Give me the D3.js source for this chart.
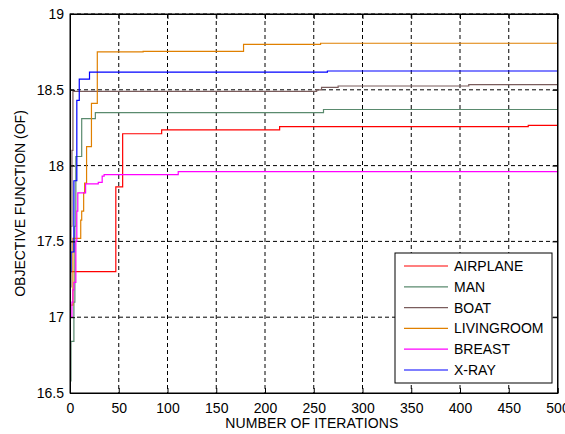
<!DOCTYPE html>
<html>
<head>
<meta charset="utf-8">
<script src="https://cdn.jsdelivr.net/npm/d3@7"></script>
<style>
    body { margin: 0; background: #fff; }
    text { font-family: "Liberation Sans", Arial, sans-serif; fill: #000; }
    .grid line { stroke: #000; stroke-width: 1; stroke-dasharray: 4,3; }
    .series { fill: none; stroke-width: 1.2; }
</style>
</head>
<body>
<svg id="chart" width="565" height="434"></svg>
<script>
// data: [iteration, objective] change points (step after)
var airplane = [[0,17.30],[47,17.86],[54,18.21],[94,18.235],[215,18.257],[470,18.265],[500,18.265]];
var man = [[0,16.58],[1,16.84],[4,17.1],[5,17.6],[6,18.06],[12,18.31],[26,18.35],[260,18.37],[500,18.37]];
var boat = [[0,17.2],[1,17.6],[2,18.1],[3,18.49],[253,18.50],[258,18.516],[275,18.525],[409,18.534],[500,18.534]];
var livingroom = [[0,17.08],[3,17.52],[11,17.64],[12,17.70],[14,17.82],[15,17.885],[17,18.125],[22,18.41],[28,18.75],[75,18.754],[178,18.80],[257,18.807],[500,18.807]];
var breast = [[0,17.0],[2,17.1],[3,17.18],[4,17.23],[6,17.5],[7,17.7],[8,17.82],[16,17.88],[29,17.89],[33,17.93],[35,17.94],[111,17.96],[500,17.96]];
var xray = [[0,17.3],[1,17.43],[4,17.90],[7,18.43],[9.5,18.57],[20,18.617],[264,18.624],[500,18.624]];

var names = ['AIRPLANE', 'MAN', 'BOAT', 'LIVINGROOM', 'BREAST', 'X-RAY'];
var colors = ['#ff0000', '#5a8a6e', '#7a5c5c', '#e08000', '#ff00ff', '#0000ff'];
var seriesData = [airplane, man, boat, livingroom, breast, xray];

var xTicks = [0, 50, 100, 150, 200, 250, 300, 350, 400, 450, 500];
var yTicks = [16.5, 17, 17.5, 18, 18.5, 19];

var pLeft = 70, pRight = 557.5, pTop = 14, pBottom = 393;

var svg = d3.select('#chart');

var x = d3.scaleLinear().domain([0, 500]).range([pLeft, pRight]);
var y = d3.scaleLinear().domain([16.5, 19]).range([pBottom, pTop]);

// grid
var grid = svg.append('g').attr('class', 'grid');
grid.selectAll('.vx').data(xTicks.slice(1, -1)).enter().append('line')
    .attr('x1', function (d) { return x(d); }).attr('x2', function (d) { return x(d); })
    .attr('y1', pTop).attr('y2', pBottom);
grid.selectAll('.hy').data(yTicks.slice(1)).enter().append('line')
    .attr('x1', pLeft).attr('x2', pRight)
    .attr('y1', function (d) { return y(d); }).attr('y2', function (d) { return y(d); });

// lines
var line = d3.line()
    .x(function (d) { return x(d[0]); })
    .y(function (d) { return y(d[1]); })
    .curve(d3.curveStepAfter);

svg.selectAll('.series').data(seriesData).enter().append('path')
    .attr('class', 'series')
    .attr('stroke', function (d, i) { return colors[i]; })
    .attr('d', line);

// axes (ticks inward)
svg.append('g').attr('transform', 'translate(0,' + pBottom + ')')
    .call(d3.axisBottom(x).tickValues(xTicks).tickSize(-5).tickPadding(10).tickFormat(d3.format('d')));
svg.append('g').attr('transform', 'translate(' + pLeft + ',0)')
    .call(d3.axisLeft(y).tickValues(yTicks).tickSize(-5).tickPadding(6).tickFormat(function (d) { return String(d); }));
svg.append('g').attr('transform', 'translate(0,' + pTop + ')')
    .call(d3.axisTop(x).tickValues(xTicks).tickSize(-5).tickFormat(''));
svg.append('g').attr('transform', 'translate(' + pRight + ',0)')
    .call(d3.axisRight(y).tickValues(yTicks).tickSize(-5).tickFormat(''));

svg.selectAll('.domain').attr('stroke', '#000');
svg.selectAll('.tick line').attr('stroke', '#000');
svg.selectAll('.tick text').style('font-size', '14px').attr('fill', '#000');

// box
svg.append('rect')
    .attr('x', pLeft).attr('y', pTop)
    .attr('width', pRight - pLeft).attr('height', pBottom - pTop)
    .attr('fill', 'none').attr('stroke', '#000');

// axis labels
svg.append('text')
    .attr('x', (pLeft + pRight) / 2 - 2).attr('y', 428)
    .attr('text-anchor', 'middle').style('font-size', '14px')
    .attr('textLength', 173)
    .text('NUMBER OF ITERATIONS');
svg.append('text')
    .attr('transform', 'translate(25,' + ((pTop + pBottom) / 2) + ') rotate(-90)')
    .attr('text-anchor', 'middle').style('font-size', '14px')
    .text('OBJECTIVE FUNCTION (OF)');

// legend
var lg = svg.append('g').attr('transform', 'translate(395,253)');
lg.append('rect').attr('width', 157).attr('height', 130)
    .attr('fill', '#fff').attr('stroke', '#000');
var items = lg.selectAll('.item').data(names).enter().append('g')
    .attr('transform', function (d, i) { return 'translate(0,' + (13 + i * 20.8) + ')'; });
items.append('line').attr('x1', 9).attr('x2', 53).attr('y1', 0).attr('y2', 0)
    .attr('stroke', function (d, i) { return colors[i]; }).attr('stroke-width', 1.2);
items.append('text').attr('x', 59).attr('y', 5).style('font-size', '14px')
    .text(function (d) { return d; });
</script>
</body>
</html>
